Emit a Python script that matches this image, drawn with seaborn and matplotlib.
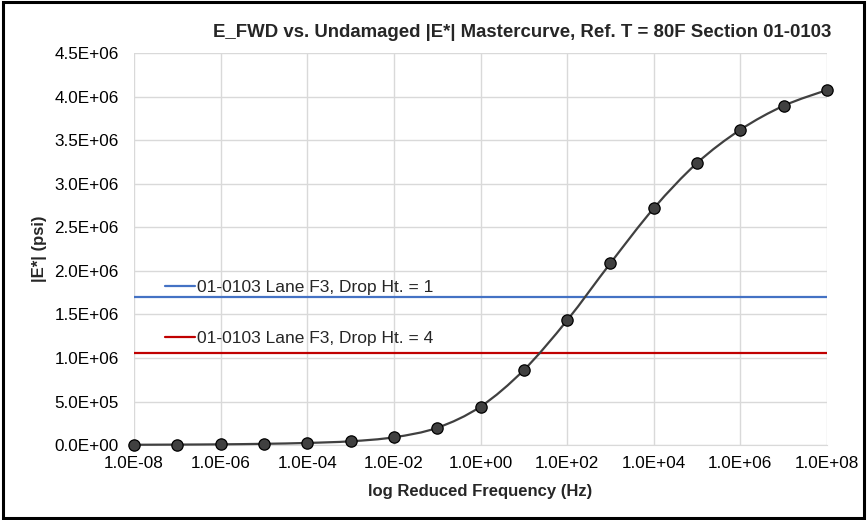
import numpy as np
import pandas as pd
import matplotlib
matplotlib.use("Agg")
import matplotlib.pyplot as plt
from matplotlib.ticker import FuncFormatter, FixedLocator
from matplotlib.path import Path
from matplotlib.patches import PathPatch
import seaborn as sns

# mastercurve values
freq = [1e-8, 1e-7, 1e-6, 1e-5, 1e-4, 1e-3, 1e-2, 1e-1, 1e0,
        1e1, 1e2, 1e3, 1e4, 1e5, 1e6, 1e7, 1e8]
e_star = [4.0e3, 6.0e3, 9.0e3, 1.5e4, 2.5e4, 4.4e4, 9.0e4, 1.99e5, 4.42e5,
          8.62e5, 1.433e6, 2.089e6, 2.718e6, 3.238e6, 3.620e6, 3.895e6, 4.076e6]

# FWD moduli
fwd_labels = ["01-0103 Lane F3, Drop Ht. = 1", "01-0103 Lane F3, Drop Ht. = 4"]
fwd_values = [1.70e6, 1.06e6]
fwd_colors = ["#4472c4", "#c00000"]

x_ticks = [1e-8, 1e-6, 1e-4, 1e-2, 1e0, 1e2, 1e4, 1e6, 1e8]
y_ticks = [0, 5e5, 1e6, 1.5e6, 2e6, 2.5e6, 3e6, 3.5e6, 4e6, 4.5e6]

df = pd.DataFrame({"freq": freq, "E": e_star})

sns.set_style("white")
plt.rcParams["font.family"] = ["Liberation Sans", "DejaVu Sans"]

fig = plt.figure(figsize=(8.67, 5.2), dpi=100)
ax = fig.add_axes([0.1546, 0.144, 0.7993, 0.754])

# horizontal FWD lines
for lab, val, col in zip(fwd_labels, fwd_values, fwd_colors):
    ax.axhline(val, color=col, lw=1.6, label=lab, zorder=2)

# smoothed connector like Excel: bezier segments (catmull-rom control points in log-x space)
lx = np.log10(df["freq"].to_numpy())
ly = df["E"].to_numpy()
px = np.concatenate([[lx[0]], lx, [lx[-1]]])
py = np.concatenate([[ly[0]], ly, [ly[-1]]])
verts = [(lx[0], ly[0])]
codes = [Path.MOVETO]
for i in range(1, len(px) - 2):
    c1 = (px[i] + (px[i + 1] - px[i - 1]) / 6, py[i] + (py[i + 1] - py[i - 1]) / 6)
    c2 = (px[i + 1] - (px[i + 2] - px[i]) / 6, py[i + 1] - (py[i + 2] - py[i]) / 6)
    verts += [c1, c2, (px[i + 1], py[i + 1])]
    codes += [Path.CURVE4] * 3
verts = [(10 ** vx, vy) for vx, vy in verts]
ax.add_patch(PathPatch(Path(verts, codes), fill=False, edgecolor="#404040", lw=1.6,
                       zorder=3, clip_on=False))

sns.scatterplot(data=df, x="freq", y="E", ax=ax, color="#404040", s=66,
                edgecolor="black", linewidth=0.9, zorder=4, clip_on=False, legend=False)

ax.set_xscale("log")
ax.set_xlim(1e-8, 1e8)
ax.set_ylim(0, 4.5e6)
ax.xaxis.set_major_locator(FixedLocator(x_ticks))
ax.xaxis.set_minor_locator(FixedLocator([]))
ax.yaxis.set_major_locator(FixedLocator(y_ticks))
ax.xaxis.set_major_formatter(FuncFormatter(lambda v, p: f"{v:.1E}"))
ax.yaxis.set_major_formatter(FuncFormatter(lambda v, p: f"{v:.1E}"))
ax.tick_params(axis="both", labelsize=12.3, length=0, labelcolor="black")
ax.tick_params(axis="x", pad=8)
ax.tick_params(axis="y", pad=11)
ax.grid(True, color="#d9d9d9", lw=1)
ax.set_axisbelow(True)
for s in ["top", "right", "left"]:
    ax.spines[s].set_visible(False)
ax.spines["bottom"].set_color("#d9d9d9")

ax.set_xlabel("log Reduced Frequency (Hz)", fontsize=12, fontweight="bold", labelpad=9)
ax.set_ylabel("|E*| (psi)", fontsize=12, fontweight="bold", labelpad=5)

leg = ax.legend(loc="upper left", bbox_to_anchor=(0.0447, 0.421), frameon=False,
                fontsize=12.5, handlelength=1.75, handletextpad=0.12,
                labelspacing=2.05, borderpad=0, borderaxespad=0)

fig.text(0.602, 0.937, "E_FWD vs. Undamaged |E*| Mastercurve, Ref. T = 80F Section 01-0103",
         ha="center", va="center", fontsize=13.4, fontweight="bold")

# outer frame
fig.patches.append(plt.Rectangle((0.003, 0.004), 0.994, 0.992, transform=fig.transFigure,
                                 fill=False, edgecolor="black", lw=2.2))

fig.savefig("out.png", dpi=100)
